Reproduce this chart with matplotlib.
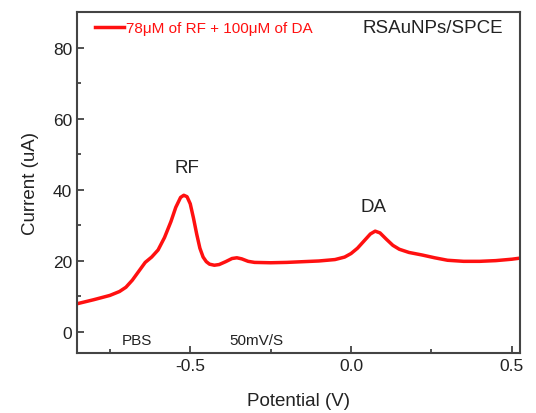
import matplotlib
matplotlib.use('Agg')
from matplotlib import pyplot as plt
import numpy as np

plt.rcParams['font.family'] = ['Liberation Sans', 'DejaVu Sans']
plt.rcParams['axes.unicode_minus'] = False

# potential (V) and current (uA)
potential = [-0.85, -0.80, -0.75, -0.72, -0.70, -0.68, -0.66, -0.64, -0.62, -0.60,
             -0.58, -0.56, -0.545, -0.53, -0.52, -0.51, -0.50, -0.49, -0.48, -0.47,
             -0.46, -0.45, -0.44, -0.425, -0.41, -0.39, -0.37, -0.355, -0.34, -0.32,
             -0.30, -0.25, -0.20, -0.15, -0.10, -0.05, -0.02, 0.00, 0.02, 0.04,
             0.06, 0.075, 0.09, 0.11, 0.13, 0.15, 0.18, 0.22, 0.26, 0.30,
             0.35, 0.40, 0.45, 0.50, 0.525]
current = [7.9, 9.0, 10.2, 11.3, 12.5, 14.5, 17.0, 19.5, 21.0, 23.0,
           26.5, 31.0, 35.0, 37.8, 38.4, 38.0, 36.0, 32.0, 27.5, 23.5,
           21.0, 19.7, 19.0, 18.7, 18.9, 19.7, 20.6, 20.8, 20.5, 19.8,
           19.5, 19.4, 19.5, 19.7, 19.9, 20.3, 21.0, 22.0, 23.5, 25.5,
           27.5, 28.3, 27.8, 26.0, 24.3, 23.2, 22.3, 21.6, 20.8, 20.1,
           19.8, 19.8, 20.0, 20.4, 20.7]

fig = plt.figure(figsize=(5.36, 4.14), dpi=100)
ax = fig.add_axes([0.1437, 0.145, 0.8263, 0.8236])

ax.plot(potential, current, color='#ff1010', lw=2.5, label='78\u03bcM of RF + 100\u03bcM of DA')

ax.set_xlim(-0.852, 0.525)
ax.set_ylim(-6, 90)
ax.set_xticks([-0.5, 0.0, 0.5])
ax.set_xticks([-0.75, -0.25, 0.25], minor=True)
ax.set_yticks([0, 20, 40, 60, 80])
ax.set_yticks([10, 30, 50, 70], minor=True)
ax.tick_params(which='both', direction='in', labelsize=12.5, color='#333333',
               labelcolor='#222222')
ax.tick_params(which='major', length=5, width=1.2)
ax.tick_params(which='minor', length=3, width=1.2)
for s in ax.spines.values():
    s.set_color('#444444')
    s.set_linewidth(1.5)

ax.set_xlabel('Potential (V)', fontsize=13.5, labelpad=14, color='#222222')
ax.set_ylabel('Current (uA)', fontsize=13.5, labelpad=10, color='#222222')

leg = ax.legend(loc='upper left', frameon=False, fontsize=11, handlelength=1.9,
                handletextpad=0.15, borderaxespad=0.2, bbox_to_anchor=(0.02, 1.0))
for t in leg.get_texts():
    t.set_color('#ff1010')

ax.text(0.962, 0.955, 'RSAuNPs/SPCE', transform=ax.transAxes, ha='right', va='center',
        fontsize=13.5, color='#222222')
ax.text(-0.509, 46.2, 'RF', ha='center', va='center', fontsize=13.5, color='#222222')
ax.text(0.07, 35.2, 'DA', ha='center', va='center', fontsize=13.5, color='#222222')
ax.text(-0.665, -2.3, 'PBS', ha='center', va='center', fontsize=11, color='#222222')
ax.text(-0.295, -2.3, '50mV/S', ha='center', va='center', fontsize=11, color='#222222')

fig.savefig('out.png', dpi=100)
